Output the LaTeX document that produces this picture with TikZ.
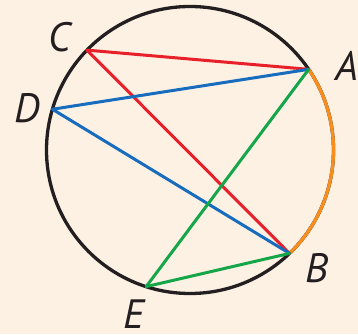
\documentclass[tikz,border=0pt]{standalone}
\usepackage{fontspec}
\setmainfont{PT Sans}
\definecolor{bgc}{RGB}{253,241,228}
\definecolor{cred}{RGB}{232,32,42}
\definecolor{cblue}{RGB}{24,108,190}
\definecolor{cgreen}{RGB}{22,166,74}
\definecolor{corange}{RGB}{247,142,30}
\definecolor{cblack}{RGB}{35,31,32}
\begin{document}
\begin{tikzpicture}[x=1pt,y=1pt,
  rim/.style={line width=3.3pt, cblack},
  chord/.style={line width=3pt, line cap=round},
  lbl/.style={font=\fontsize{41}{41}\selectfont\itshape, text=cblack, inner sep=0pt}]
\fill[bgc] (0,0) rectangle (358,334);
\useasboundingbox (0,0) rectangle (358,334);
\coordinate (O) at (190,184);
\coordinate (A) at ([shift={(34.2:143.5)}]O);
\coordinate (B) at ([shift={(-46.1:143.5)}]O);
\coordinate (C) at ([shift={(135.9:143.5)}]O);
\coordinate (D) at ([shift={(163.5:143.5)}]O);
\coordinate (E) at ([shift={(-107.8:143.5)}]O);
\draw[rim] (O) circle (143.5);
\draw[rim, corange] (A) arc (34.2:-46.1:143.5);
\draw[chord, cred] (C) -- (A);
\draw[chord, cred] (C) -- (B);
\draw[chord, cblue] (D) -- (A);
\draw[chord, cblue] (D) -- (B);
\draw[chord, cgreen] (A) -- (E);
\draw[chord, cgreen] (E) -- (B);
\node[lbl] (lA) at (347,268) {A};
\node[lbl] (lB) at (317,66) {B};
\node[lbl] (lC) at (60,297) {C};
\node[lbl] (lD) at (27,226) {D};
\node[lbl] (lE) at (134,20) {E};
\end{tikzpicture}
\end{document}
